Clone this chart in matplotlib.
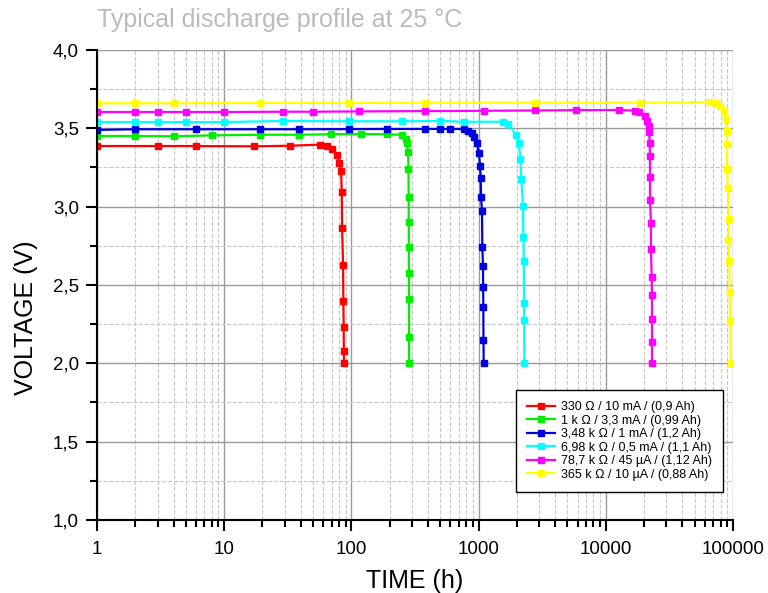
import matplotlib
matplotlib.use("Agg")
import matplotlib.pyplot as plt
from matplotlib.ticker import FixedLocator, FuncFormatter, LogLocator, NullFormatter

plt.rcParams['font.family'] = ['Liberation Sans', 'DejaVu Sans']

# discharge curves: time (h), voltage (V)
t_330 = [1, 3, 6, 17, 33, 57, 64, 71, 77, 80, 83, 84, 84.5, 86, 86.5, 87, 87.2, 87.3]
v_330 = [3.387, 3.387, 3.387, 3.385, 3.389, 3.396, 3.389, 3.368, 3.328, 3.281, 3.230,
         3.094, 2.866, 2.630, 2.398, 2.230, 2.081, 2.0]

t_1k = [1, 2, 4, 8, 19, 39, 69, 118, 190, 249, 269, 274, 279, 281, 282, 282.5,
        283, 283.5, 284, 284.3, 284.6]
v_1k = [3.451, 3.451, 3.449, 3.455, 3.459, 3.459, 3.462, 3.464, 3.462, 3.459, 3.430,
        3.404, 3.351, 3.239, 3.060, 2.904, 2.744, 2.579, 2.413, 2.170, 2.0]

t_3k48 = [1, 2, 6, 19, 39, 96, 190, 380, 497, 596, 767, 830, 883, 921, 967, 1007,
          1026, 1040, 1045, 1064, 1070, 1083, 1086, 1089, 1093, 1096]
v_3k48 = [3.490, 3.494, 3.494, 3.494, 3.494, 3.495, 3.496, 3.496, 3.496, 3.496, 3.496,
          3.483, 3.468, 3.443, 3.404, 3.341, 3.261, 3.181, 3.064, 2.972, 2.745, 2.621,
          2.489, 2.362, 2.149, 2.0]

t_6k98 = [1, 2, 3, 5, 10, 29, 96, 250, 497, 767, 1564, 1713, 1969, 2079, 2129, 2167,
          2235, 2250, 2265, 2275, 2282, 2287]
v_6k98 = [3.540, 3.540, 3.540, 3.540, 3.540, 3.547, 3.545, 3.545, 3.547, 3.542, 3.542,
          3.528, 3.457, 3.408, 3.304, 3.177, 3.004, 2.808, 2.655, 2.387, 2.277, 2.0]

t_78k7 = [1, 2, 3, 5, 10, 29, 50, 115, 380, 1100, 2800, 5800, 12770, 16970, 18340,
          20330, 21190, 21730, 21980, 22100, 22250, 22250, 22250, 22650, 22650, 22950,
          23070, 23070, 23070, 23070]
v_78k7 = [3.604, 3.604, 3.604, 3.604, 3.604, 3.606, 3.606, 3.608, 3.610, 3.612, 3.614,
          3.616, 3.617, 3.613, 3.604, 3.579, 3.549, 3.515, 3.479, 3.404, 3.325, 3.189,
          3.041, 2.898, 2.730, 2.553, 2.436, 2.281, 2.134, 2.0]

t_365k = [1, 2, 4, 19, 96, 380, 2800, 18580, 65950, 73090, 79030, 84950, 87620, 89270,
          89760, 89760, 91390, 93050, 92000, 93550, 94230, 94800, 95960]
v_365k = [3.660, 3.660, 3.660, 3.662, 3.662, 3.664, 3.664, 3.664, 3.666, 3.660, 3.643,
          3.613, 3.561, 3.485, 3.398, 3.240, 3.119, 2.921, 2.787, 2.655, 2.457, 2.270, 2.0]

series = [
    (t_330, v_330, '#ff0000', '330 Ω / 10 mA / (0,9 Ah)'),
    (t_1k, v_1k, '#00ee00', '1 k Ω / 3,3 mA / (0,99 Ah)'),
    (t_3k48, v_3k48, '#0000dd', '3,48 k Ω / 1 mA / (1,2 Ah)'),
    (t_6k98, v_6k98, '#00ffff', '6,98 k Ω / 0,5 mA / (1,1 Ah)'),
    (t_78k7, v_78k7, '#ff00ff', '78,7 k Ω / 45 µA / (1,12 Ah)'),
    (t_365k, v_365k, '#ffff00', '365 k Ω / 10 µA / (0,88 Ah)'),
]

y_ticks = [1.0, 1.5, 2.0, 2.5, 3.0, 3.5, 4.0]
x_ticks = [1, 10, 100, 1000, 10000, 100000]

fig = plt.figure(figsize=(7.68, 5.93), dpi=100)
ax = fig.add_axes([0.1263, 0.1231, 0.8281, 0.7926])

for t, v, c, lab in series:
    ax.plot(t, v, color=c, lw=1.6, marker='s', ms=4, label=lab)

ax.set_xscale('log')
ax.set_xlim(1, 100000)
ax.set_ylim(1.0, 4.0)
ax.xaxis.set_major_locator(FixedLocator(x_ticks))
ax.xaxis.set_major_formatter(FuncFormatter(lambda x, p: f'{x:.0f}'))
ax.xaxis.set_minor_locator(LogLocator(base=10, subs=range(2, 10), numticks=20))
ax.xaxis.set_minor_formatter(NullFormatter())
ax.yaxis.set_major_locator(FixedLocator(y_ticks))
ax.yaxis.set_minor_locator(FixedLocator([1.25, 1.75, 2.25, 2.75, 3.25, 3.75]))
ax.yaxis.set_major_formatter(FuncFormatter(lambda y, p: f'{y:.1f}'.replace('.', ',')))

ax.grid(which='major', color='#9a9a9a', lw=1.0, ls='-')
ax.grid(which='minor', color='#c8c8c8', lw=0.8, ls='--')
ax.set_axisbelow(True)

for s in ['top', 'right']:
    ax.spines[s].set_visible(False)
for s in ['left', 'bottom']:
    ax.spines[s].set_linewidth(1.5)
ax.tick_params(which='major', direction='out', length=8, width=1.5, labelsize=13.5)
ax.tick_params(axis='x', which='major', pad=7)
ax.tick_params(axis='y', which='major', pad=5)
ax.tick_params(which='minor', direction='out', length=5, width=1.5)

ax.set_xlabel('TIME (h)', fontsize=18)
ax.set_ylabel('VOLTAGE (V)', fontsize=18)
ax.xaxis.set_label_coords(0.5, -0.105)
ax.yaxis.set_label_coords(-0.093, 0.43)

fig.text(0.126, 0.966, 'Typical discharge profile at 25 °C', fontsize=18,
         color='#bbbbbb', ha='left', va='center')

leg = ax.legend(loc='lower right', bbox_to_anchor=(0.984, 0.06), borderaxespad=0,
                fontsize=9, frameon=True, fancybox=False, edgecolor='black',
                framealpha=1, handlelength=2.2, labelspacing=0.12, borderpad=0.9,
                handletextpad=0.45)
leg.get_frame().set_linewidth(1.0)

fig.savefig('out.png', dpi=100)
